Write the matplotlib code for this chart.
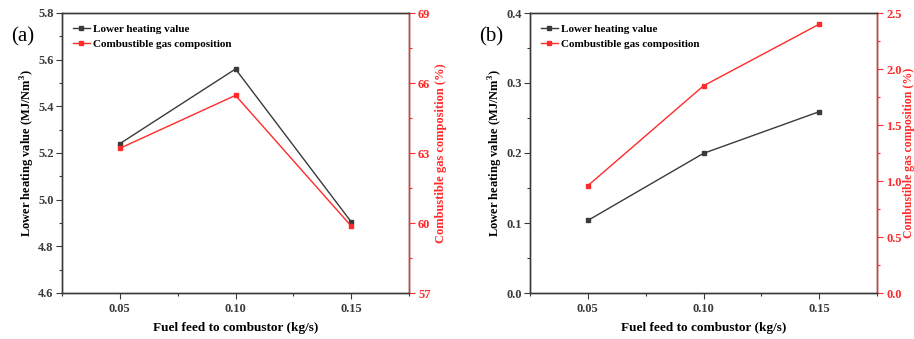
import matplotlib
matplotlib.use("Agg")
import matplotlib.pyplot as plt
from matplotlib.ticker import MultipleLocator, AutoMinorLocator

plt.rcParams['font.family'] = ['Liberation Serif', 'DejaVu Serif']
plt.rcParams['mathtext.fontset'] = 'custom'
plt.rcParams['mathtext.rm'] = 'Liberation Serif:bold'
plt.rcParams['mathtext.bf'] = 'Liberation Serif:bold'

feed = [0.05, 0.10, 0.15]
lhv_a = [5.24, 5.56, 4.905]
gas_a = [63.2, 65.47, 59.87]
lhv_b = [0.1036, 0.1995, 0.259]
gas_b = [0.958, 1.85, 2.40]

panel_labels = ['(a)', '(b)']
xlabel = 'Fuel feed to combustor (kg/s)'
ylabel_l = 'Lower heating value (MJ/Nm$^\\mathbf{3}$)'
ylabel_r = 'Combustible gas composition (%)'
leg_l = 'Lower heating value'
leg_r = 'Combustible gas composition'

BLACK = '#3a3a3a'
RED = '#ff2a2a'

fig = plt.figure(figsize=(9.14, 3.39), dpi=100)
W, H = 914, 339
boxes = [(62, 13, 409, 293), (530, 13, 877, 293)]
cfg = [
    dict(lhv=lhv_a, gas=gas_a, ylim=(4.6, 5.8), ymaj=0.2, rlim=(57, 69), rmaj=3, rfmt='{:.0f}', lfmt='{:.1f}'),
    dict(lhv=lhv_b, gas=gas_b, ylim=(0.0, 0.4), ymaj=0.1, rlim=(0.0, 2.5), rmaj=0.5, rfmt='{:.1f}', lfmt='{:.1f}'),
]
fs = 9
for i, (box, c) in enumerate(zip(boxes, cfg)):
    l, t, r, b = box
    ax = fig.add_axes([l / W, 1 - b / H, (r - l) / W, (b - t) / H])
    ax2 = ax.twinx()
    h1, = ax.plot(feed, c['lhv'], '-s', color=BLACK, lw=1.0, ms=3.5, label=leg_l)
    h2, = ax2.plot(feed, c['gas'], '-s', color=RED, lw=1.0, ms=3.5, label=leg_r)
    ax.set_xlim(0.025, 0.175)
    ax.set_xticks(feed)
    ax.set_xticklabels(['{:.2f}'.format(v) for v in feed])
    ax.xaxis.set_minor_locator(MultipleLocator(0.025))
    ax.set_ylim(*c['ylim'])
    ax.yaxis.set_major_locator(MultipleLocator(c['ymaj']))
    ax.yaxis.set_minor_locator(AutoMinorLocator(2))
    ax2.set_ylim(*c['rlim'])
    ax2.yaxis.set_major_locator(MultipleLocator(c['rmaj']))
    ax2.yaxis.set_minor_locator(AutoMinorLocator(2))
    ax.yaxis.set_major_formatter(matplotlib.ticker.FuncFormatter(lambda v, p, f=c['lfmt']: f.format(v)))
    ax2.yaxis.set_major_formatter(matplotlib.ticker.FuncFormatter(lambda v, p, f=c['rfmt']: f.format(v)))

    for a in (ax, ax2):
        for s in a.spines.values():
            s.set_color(BLACK)
            s.set_linewidth(1.0)
    ax2.spines['right'].set_color(RED)
    ax.tick_params(axis='both', which='both', direction='out', colors=BLACK, labelsize=fs, width=0.8)
    ax.tick_params(which='major', length=4)
    ax.tick_params(which='minor', length=2)
    ax.tick_params(axis='y', pad=2)
    ax2.tick_params(axis='y', which='both', direction='out', colors=RED, labelcolor=RED, labelsize=fs, width=0.8, pad=2.5)
    ax2.tick_params(which='major', length=4)
    ax2.tick_params(which='minor', length=2)
    for lab in ax.get_xticklabels() + ax.get_yticklabels() + ax2.get_yticklabels():
        lab.set_fontweight('bold')

    ax.set_xlabel(xlabel, fontsize=fs + 0.5, fontweight='bold', labelpad=5)
    ax.set_ylabel(ylabel_l, fontsize=fs, fontweight='bold', labelpad=0.5)
    ax2.set_ylabel(ylabel_r, fontsize=fs if i == 0 else fs - 0.5, fontweight='bold', color=RED,
                   labelpad=3 if i == 0 else 1)

    ax.legend([h1, h2], [leg_l, leg_r], loc='upper left', frameon=False,
              prop={'weight': 'bold', 'size': 8}, handlelength=1.5, handletextpad=0.3,
              labelspacing=0.45, borderaxespad=0.6, markerscale=0.9)
    fig.text((l - 39) / W, 1 - 37 / H, panel_labels[i], fontsize=15, va='center', ha='center')

fig.savefig('out.png', dpi=100)
